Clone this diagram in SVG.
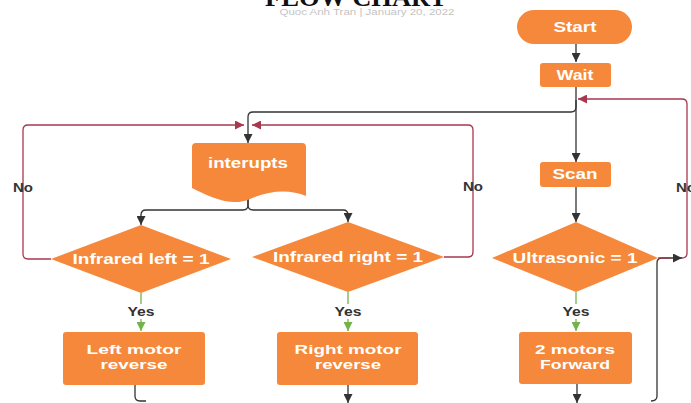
<svg xmlns="http://www.w3.org/2000/svg" width="691" height="403" viewBox="0 0 691 403">
<style>
.sh{fill:#F5883B}
.t{font-family:"Liberation Sans",Arial,sans-serif;font-weight:bold;fill:#fff;text-anchor:middle;font-size:14px}
.t2{font-size:13px}
.lb{font-family:"Liberation Sans",Arial,sans-serif;font-weight:bold;fill:#333;font-size:12px;text-anchor:middle}
.k{fill:none;stroke:#333;stroke-width:1.3}
.r{fill:none;stroke:#A8384F;stroke-width:1.3}
.g{fill:none;stroke:#72B34A;stroke-width:1.3}
</style>
<defs>
<marker id="ak" viewBox="0 0 10 10" refX="10" refY="5" markerWidth="9" markerHeight="9" markerUnits="userSpaceOnUse" orient="auto"><path d="M0,0 L10,5 L0,10 z" fill="#333"/></marker>
<marker id="ar" viewBox="0 0 10 10" refX="10" refY="5" markerWidth="9" markerHeight="9" markerUnits="userSpaceOnUse" orient="auto"><path d="M0,0 L10,5 L0,10 z" fill="#A8384F"/></marker>
<marker id="ag" viewBox="0 0 10 10" refX="10" refY="5" markerWidth="9" markerHeight="9" markerUnits="userSpaceOnUse" orient="auto"><path d="M0,0 L10,5 L0,10 z" fill="#72B34A"/></marker>
</defs>
<rect width="691" height="403" fill="#fff"/>
<g id="title">
<text x="356" y="6" font-family="Liberation Serif,serif" font-weight="bold" font-size="25" text-anchor="middle" fill="#111" textLength="182" lengthAdjust="spacingAndGlyphs">FLOW CHART</text>
<text x="367" y="15" font-family="Liberation Sans,Arial,sans-serif" font-size="9" text-anchor="middle" fill="#c4c4c4" textLength="175" lengthAdjust="spacingAndGlyphs">Quoc Anh Tran | January 20, 2022</text>
</g>
<g id="connectors">
<path class="k" d="M576,44 V62" marker-end="url(#ak)"/>
<path class="k" d="M576,87 V162" marker-end="url(#ak)"/>
<path class="k" d="M576,100 V107 Q576,112 571,112 H253 Q248,112 248,117 V143" marker-end="url(#ak)"/>
<path class="k" d="M576,187 V222" marker-end="url(#ak)"/>
<path class="k" d="M248,199 V205 Q248,210 243,210 H146 Q141,210 141,215 V225" marker-end="url(#ak)"/>
<path class="k" d="M248,199 V205 Q248,210 253,210 H343 Q348,210 348,215 V222" marker-end="url(#ak)"/>
<path class="r" d="M51,259 H28 Q23,259 23,254 V130 Q23,125 28,125 H244" marker-end="url(#ar)"/>
<path class="r" d="M444,257 H468 Q473,257 473,252 V130 Q473,125 468,125 H252" marker-end="url(#ar)"/>
<path class="k" d="M651,401 Q657,401 657,396 V263 Q657,258 662,258 H682" marker-end="url(#ak)"/>
<path class="r" d="M658,258 H670"/>
<path class="r" d="M682,258 Q687,258 687,253 V104 Q687,99 682,99 H578" marker-end="url(#ar)"/>
<path class="g" d="M141,293 V304"/>
<path class="g" d="M141,319 V331" marker-end="url(#ag)"/>
<path class="g" d="M348,292 V304"/>
<path class="g" d="M348,319 V331" marker-end="url(#ag)"/>
<path class="g" d="M576,292 V304"/>
<path class="g" d="M576,319 V331" marker-end="url(#ag)"/>
<path class="k" d="M135,385 V396 Q135,401 140,401 H146"/>
<path class="k" d="M348,385 V403" marker-end="url(#ak)"/>
<path class="k" d="M577,384 V403" marker-end="url(#ak)"/>
<text class="lb" x="23" y="192" textLength="20" lengthAdjust="spacingAndGlyphs">No</text>
<text class="lb" x="473" y="191" textLength="20" lengthAdjust="spacingAndGlyphs">No</text>
<text class="lb" x="686" y="192" textLength="20" lengthAdjust="spacingAndGlyphs">No</text>
<text class="lb" x="141" y="316" textLength="27" lengthAdjust="spacingAndGlyphs">Yes</text>
<text class="lb" x="348" y="316" textLength="27" lengthAdjust="spacingAndGlyphs">Yes</text>
<text class="lb" x="576" y="316" textLength="27" lengthAdjust="spacingAndGlyphs">Yes</text>
</g>
<g id="start"><rect class="sh" x="517" y="10" width="115" height="34" rx="17"/><text class="t" x="575" y="32" font-size="15" textLength="43" lengthAdjust="spacingAndGlyphs">Start</text></g>
<g id="wait"><rect class="sh" x="540" y="63" width="71" height="24" rx="3"/><text class="t" x="575" y="80" textLength="37" lengthAdjust="spacingAndGlyphs">Wait</text></g>
<g id="scan"><rect class="sh" x="540" y="162" width="71" height="25" rx="3"/><text class="t" x="575" y="179" textLength="45" lengthAdjust="spacingAndGlyphs">Scan</text></g>
<g id="interupts"><path class="sh" d="M192,147 Q192,143 196,143 H302 Q306,143 306,147 V196 C290,189 270,190 250,199 C232,207 212,198 192,188 Z"/><text class="t" x="248" y="168" textLength="80" lengthAdjust="spacingAndGlyphs">interupts</text></g>
<g id="infrared-left"><polygon class="sh" points="51,259 141,225 231,259 141,293"/><text class="t" x="141" y="264" textLength="137" lengthAdjust="spacingAndGlyphs">Infrared left = 1</text></g>
<g id="infrared-right"><polygon class="sh" points="252,257 348,222 444,257 348,292"/><text class="t" x="348" y="262" textLength="150" lengthAdjust="spacingAndGlyphs">Infrared right = 1</text></g>
<g id="ultrasonic"><polygon class="sh" points="492,258 576,222 658,258 576,292"/><text class="t" x="575" y="263" textLength="125" lengthAdjust="spacingAndGlyphs">Ultrasonic = 1</text></g>
<g id="left-motor"><rect class="sh" x="63" y="332" width="142" height="53" rx="3"/><text class="t t2" x="134" y="354" textLength="95" lengthAdjust="spacingAndGlyphs">Left motor</text><text class="t t2" x="134" y="369" textLength="67" lengthAdjust="spacingAndGlyphs">reverse</text></g>
<g id="right-motor"><rect class="sh" x="277" y="332" width="141" height="53" rx="3"/><text class="t t2" x="348" y="354" textLength="107" lengthAdjust="spacingAndGlyphs">Right motor</text><text class="t t2" x="348" y="369" textLength="66" lengthAdjust="spacingAndGlyphs">reverse</text></g>
<g id="two-motors"><rect class="sh" x="519" y="332" width="113" height="52" rx="3"/><text class="t t2" x="575" y="354" textLength="80" lengthAdjust="spacingAndGlyphs">2 motors</text><text class="t t2" x="575" y="369" textLength="70" lengthAdjust="spacingAndGlyphs">Forward</text></g>
</svg>
